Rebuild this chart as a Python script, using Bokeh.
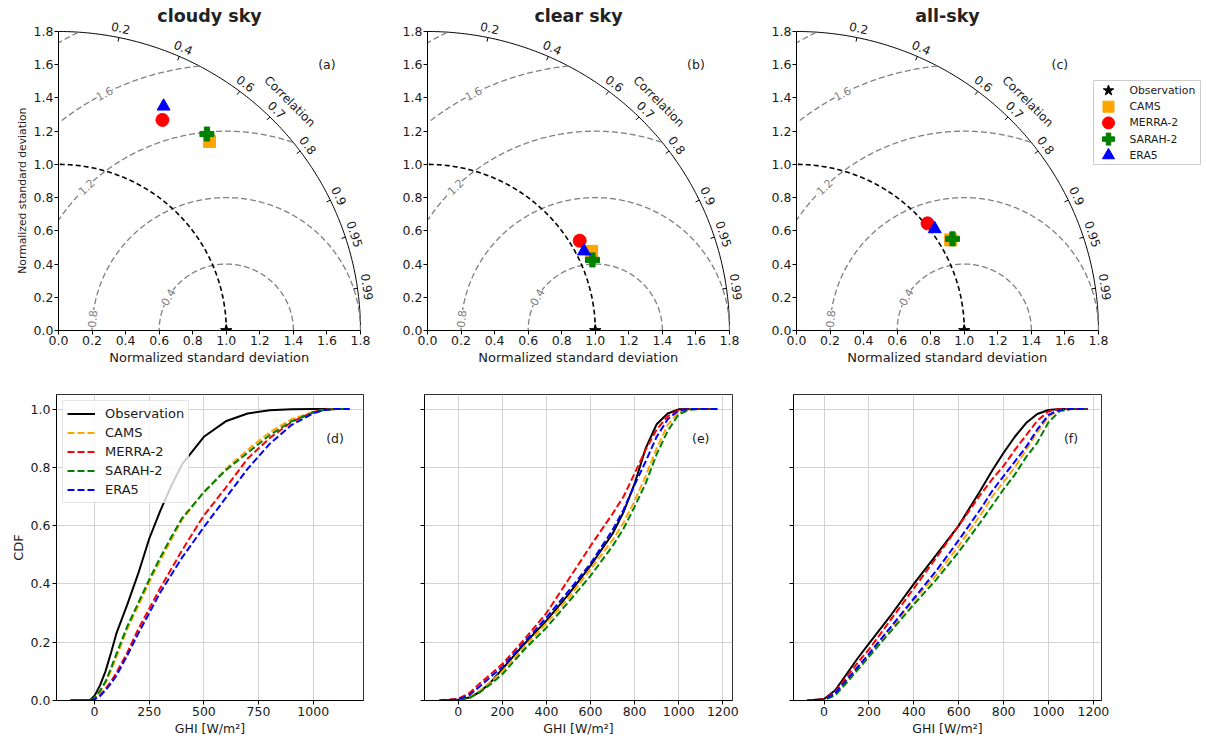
import numpy as np
from bokeh.plotting import figure
from bokeh.models import (ColumnDataSource, LabelSet, Label, Legend, LegendItem, Title,
                          FixedTicker, Range1d, PrintfTickFormatter, CustomJSTickFormatter)
from bokeh.layouts import column, row
from bokeh.embed import file_html
from bokeh.resources import INLINE
from bokeh.core.properties import value

FONT = "DejaVu Sans"
TXT = "#1a1a1a"

# ---------------- data ----------------
models = ["CAMS", "MERRA-2", "SARAH-2", "ERA5"]
model_colors = ["orange", "red", "green", "blue"]
model_markers = ["square", "circle", "plus", "triangle"]
model_sizes = [12, 13, 14, 13]

sky_titles = ["cloudy sky", "clear sky", "all-sky"]
top_tags = ["(a)", "(b)", "(c)"]
bottom_tags = ["(d)", "(e)", "(f)"]

# Taylor diagrams: normalized standard deviation and correlation (order = models)
std_cloudy = [1.451, 1.411, 1.477, 1.488]
corr_cloudy = [0.620, 0.439, 0.599, 0.421]
std_clear = [1.088, 1.056, 1.071, 1.048]
corr_clear = [0.899, 0.859, 0.918, 0.890]
std_all = [1.069, 1.013, 1.081, 1.026]
corr_all = [0.860, 0.771, 0.860, 0.803]
obs_std = 1.0
obs_corr = 1.0

std_ticks = [0.0, 0.2, 0.4, 0.6, 0.8, 1.0, 1.2, 1.4, 1.6, 1.8]
corr_ticks = [0.2, 0.4, 0.6, 0.7, 0.8, 0.9, 0.95, 0.99]
rms_levels = [0.4, 0.8, 1.2, 1.6, 2.0]
rms_label_levels = [0.4, 0.8, 1.2, 1.6]

# CDF curves
ghi_d = [-110, -20, 0, 25, 50, 75, 100, 150, 200, 250, 300, 350, 400, 500, 600, 700, 800, 900, 1000, 1050, 1100, 1166]
obs_d = [0, 0.002, 0.016, 0.052, 0.10, 0.163, 0.23, 0.33, 0.436, 0.555, 0.65, 0.735, 0.81, 0.905, 0.958, 0.985, 0.996, 0.999, 1, 1, 1, 1]
cams_d = [0, 0.001, 0.008, 0.03, 0.06, 0.102, 0.15, 0.245, 0.325, 0.405, 0.48, 0.55, 0.62, 0.715, 0.795, 0.86, 0.92, 0.965, 0.99, 0.998, 1, 1]
merra_d = [0, 0, 0.005, 0.018, 0.04, 0.065, 0.095, 0.165, 0.245, 0.315, 0.385, 0.45, 0.515, 0.635, 0.73, 0.83, 0.9, 0.955, 0.99, 0.998, 1, 1]
sarah_d = [0, 0.001, 0.008, 0.033, 0.065, 0.11, 0.16, 0.255, 0.335, 0.415, 0.49, 0.56, 0.625, 0.715, 0.79, 0.85, 0.91, 0.958, 0.988, 0.997, 1, 1]
era5_d = [0, 0, 0.004, 0.015, 0.035, 0.058, 0.085, 0.155, 0.23, 0.3, 0.37, 0.43, 0.49, 0.595, 0.695, 0.795, 0.88, 0.945, 0.985, 0.997, 1, 1]

ghi_e = [-85, 0, 50, 100, 150, 200, 300, 400, 500, 600, 700, 750, 800, 850, 900, 950, 1000, 1050, 1100, 1175]
obs_e = [0, 0.003, 0.01, 0.03, 0.065, 0.108, 0.194, 0.274, 0.364, 0.463, 0.572, 0.647, 0.744, 0.865, 0.948, 0.985, 0.999, 1, 1, 1]
cams_e = [0, 0.002, 0.01, 0.035, 0.065, 0.1, 0.185, 0.265, 0.352, 0.45, 0.55, 0.61, 0.685, 0.77, 0.865, 0.945, 0.99, 1, 1, 1]
merra_e = [0, 0.006, 0.025, 0.06, 0.092, 0.125, 0.21, 0.30, 0.415, 0.53, 0.641, 0.70, 0.779, 0.86, 0.93, 0.975, 0.997, 1, 1, 1]
sarah_e = [0, 0.002, 0.008, 0.03, 0.058, 0.09, 0.175, 0.25, 0.338, 0.428, 0.53, 0.59, 0.665, 0.745, 0.845, 0.925, 0.982, 0.998, 1, 1]
era5_e = [0, 0.004, 0.018, 0.05, 0.083, 0.115, 0.2, 0.285, 0.375, 0.47, 0.585, 0.655, 0.74, 0.82, 0.905, 0.965, 0.995, 1, 1, 1]

ghi_f = [-75, 0, 50, 100, 150, 200, 300, 400, 500, 600, 700, 750, 800, 850, 900, 950, 1000, 1050, 1100, 1174]
obs_f = [0, 0.005, 0.035, 0.09, 0.145, 0.195, 0.295, 0.40, 0.50, 0.60, 0.725, 0.79, 0.85, 0.905, 0.952, 0.983, 0.997, 1, 1, 1]
cams_f = [0, 0.003, 0.022, 0.068, 0.113, 0.158, 0.25, 0.345, 0.43, 0.53, 0.64, 0.70, 0.75, 0.80, 0.86, 0.92, 0.975, 0.997, 1, 1]
merra_f = [0, 0.004, 0.03, 0.08, 0.13, 0.175, 0.28, 0.385, 0.49, 0.60, 0.71, 0.76, 0.805, 0.86, 0.91, 0.96, 0.992, 1, 1, 1]
sarah_f = [0, 0.002, 0.018, 0.06, 0.105, 0.15, 0.24, 0.33, 0.415, 0.51, 0.615, 0.67, 0.725, 0.775, 0.835, 0.885, 0.955, 0.993, 1, 1]
era5_f = [0, 0.003, 0.025, 0.07, 0.115, 0.16, 0.255, 0.35, 0.445, 0.55, 0.66, 0.72, 0.77, 0.82, 0.87, 0.93, 0.98, 0.998, 1, 1]

cdf_ticks_y = [0.0, 0.2, 0.4, 0.6, 0.8, 1.0]
ghi_ticks_d = [0, 250, 500, 750, 1000]
ghi_ticks_ef = [0, 200, 400, 600, 800, 1000, 1200]

R_MAX = 1.8
KX = 302.0 / R_MAX   # px per unit (x) in the Taylor panels
KY = 299.0 / R_MAX   # px per unit (y)
TOP_H = 330          # Taylor frame height (reaches canvas top)


def style_axis(ax, fs="12.5px"):
    ax.major_label_text_font = FONT
    ax.major_label_text_font_size = fs
    ax.major_label_text_color = TXT
    ax.axis_label_text_font = FONT
    ax.axis_label_text_font_style = "normal"
    ax.axis_label_text_color = TXT
    ax.axis_line_color = "black"
    ax.major_tick_line_color = "black"
    ax.minor_tick_line_color = None
    ax.major_tick_in = 0
    ax.major_tick_out = 4


XLAB_W = 200.6   # approx. pixel width of the x-axis title at 13px
YLAB_W = 166.6   # approx. pixel width of the y-axis title at 10.8px


def taylor_panel(k, std, corr, L, Wf, R, show_ylabel):
    p = figure(x_range=Range1d(0, Wf / KX), y_range=Range1d(0, TOP_H / KY),
               frame_width=Wf, frame_height=TOP_H,
               min_border_left=L, min_border_right=R, min_border_top=0, min_border_bottom=40,
               output_backend="svg", toolbar_location=None)
    p.grid.visible = False
    p.outline_line_color = None
    for ax in (p.xaxis[0], p.yaxis[0]):
        style_axis(ax)
        ax.ticker = FixedTicker(ticks=std_ticks)
        ax.formatter = PrintfTickFormatter(format="%.1f")
        ax.major_label_standoff = 1
        ax.bounds = (0, R_MAX)
    p.add_layout(Title(text="Normalized standard deviation", align="left",
                       offset=0.9 * KX - XLAB_W / 2, standoff=0,
                       text_font=FONT, text_font_size="13px", text_font_style="normal",
                       text_color=TXT), "below")
    if show_ylabel:
        p.add_layout(Title(text="Normalized standard deviation", align="left",
                           offset=(TOP_H - 190) - YLAB_W / 2, standoff=4,
                           text_font=FONT, text_font_size="10.8px", text_font_style="normal",
                           text_color=TXT), "left")

    th = np.linspace(0, np.pi / 2, 181)
    # outer correlation arc
    p.line(R_MAX * np.cos(th), R_MAX * np.sin(th), line_color="black", line_width=1)
    # centred RMS difference arcs
    for r in rms_levels:
        ph = np.linspace(0, np.pi, 721)
        x = 1 + r * np.cos(ph)
        y = r * np.sin(ph)
        m = (x >= 0) & (x ** 2 + y ** 2 <= R_MAX ** 2 + 1e-9)
        p.line(x[m], y[m], line_color="#808080", line_dash="6 3", line_width=1.3)
    # observation std arc
    p.line(obs_std * np.cos(th), obs_std * np.sin(th), line_color="black",
           line_dash="5 3", line_width=1.6)
    # RMS labels
    phi = np.radians([150, 175, 134, 117])
    rl = np.array(rms_label_levels)
    rsrc = ColumnDataSource(dict(x=1 + rl * np.cos(phi), y=rl * np.sin(phi),
                                 t=[f"{v:.1f}" for v in rms_label_levels], a=phi - np.pi / 2))
    p.add_layout(LabelSet(x="x", y="y", text="t", angle="a", source=rsrc,
                          text_align="center", text_baseline="middle",
                          text_font=value(FONT), text_font_size="11px", text_color="#808080",
                          background_fill_color="white"))
    # correlation ticks and labels
    ang = np.arccos(np.array(corr_ticks))
    p.segment(x0=1.775 * np.cos(ang), y0=1.775 * np.sin(ang),
              x1=R_MAX * np.cos(ang), y1=R_MAX * np.sin(ang), line_color="black", line_width=1)
    csrc = ColumnDataSource(dict(x=1.858 * np.cos(ang), y=1.858 * np.sin(ang),
                                 t=[f"{c:g}" for c in corr_ticks], a=ang - np.pi / 2))
    p.add_layout(LabelSet(x="x", y="y", text="t", angle="a", source=csrc,
                          text_align="center", text_baseline="middle",
                          text_font=value(FONT), text_font_size="12px", text_color=TXT))
    p.add_layout(Label(x=1.95 * np.cos(np.pi / 4), y=1.95 * np.sin(np.pi / 4), text="Correlation",
                       angle=-np.pi / 4, text_align="center", text_baseline="middle",
                       text_font=FONT, text_font_size="12px", text_color=TXT))
    # title and tag
    p.add_layout(Label(x=0.9, y=1.896, text=sky_titles[k], text_align="center",
                       text_baseline="middle", text_font=FONT, text_font_size="17.5px",
                       text_font_style="bold", text_color="#222222"))
    p.add_layout(Label(x=1.6 if k < 2 else 1.57, y=1.6, text=top_tags[k], text_align="center",
                       text_baseline="middle", text_font=FONT, text_font_size="12.5px",
                       text_color=TXT))
    # points
    p.scatter([obs_std * obs_corr], [obs_std * np.sqrt(1 - obs_corr ** 2)],
              marker="star", size=12, color="black")
    for s, c, col, mk, sz in zip(std, corr, model_colors, model_markers, model_sizes):
        p.scatter([s * c], [s * np.sqrt(1 - c ** 2)], marker=mk, size=sz,
                  fill_color=col, line_color=col)
    return p


pa = taylor_panel(0, std_cloudy, corr_cloudy, 58, 322, 0, True)
pb = taylor_panel(1, std_clear, corr_clear, 47, 321, 0, False)
pc = taylor_panel(2, std_all, corr_all, 48, 410, 0, False)

# marker legend of the Taylor diagrams, drawn in the free frame space of panel (c)
leg_labels = ["Observation"] + models
leg_colors = ["black"] + model_colors
leg_markers = ["star"] + model_markers
leg_sizes = [11, 11, 12, 12, 12]
LEG_LEFT, LEG_TOP, LEG_W, LEG_H, LEG_PITCH = 297, 80, 107, 84, 16.2   # px (frame-relative x, canvas y)
lx0 = LEG_LEFT / KX
lx1 = (LEG_LEFT + LEG_W) / KX
ly1 = (TOP_H - LEG_TOP) / KY
ly0 = (TOP_H - LEG_TOP - LEG_H) / KY
pc.quad(left=[lx0], right=[lx1], bottom=[ly0], top=[ly1], fill_color="white",
        line_color="#cccccc", line_width=1)
ent_y = [(TOP_H - LEG_TOP - 10 - i * LEG_PITCH) / KY for i in range(len(leg_labels))]
for yy, col, mk, sz in zip(ent_y, leg_colors, leg_markers, leg_sizes):
    pc.scatter([(LEG_LEFT + 15) / KX], [yy], marker=mk, size=sz, fill_color=col, line_color=col)
pc.text(x=[(LEG_LEFT + 36) / KX] * len(leg_labels), y=ent_y, text=leg_labels,
        text_font=value(FONT), text_font_size="10.8px", text_color=TXT,
        text_align="left", text_baseline="middle")


def cdf_panel(k, ghi, curves, xr, xticks, L, FW, R, first):
    p = figure(x_range=Range1d(*xr), y_range=Range1d(0, 1.05),
               frame_width=FW, frame_height=306,
               min_border_left=L, min_border_right=R, min_border_top=24, min_border_bottom=42,
               output_backend="svg", toolbar_location=None)
    p.outline_line_color = "#333333"
    p.outline_line_width = 1
    for ax in (p.xaxis[0], p.yaxis[0]):
        style_axis(ax)
        ax.major_label_standoff = 2
        ax.axis_label_standoff = 2
    p.xaxis.ticker = FixedTicker(ticks=xticks)
    p.yaxis.ticker = FixedTicker(ticks=cdf_ticks_y)
    p.xgrid.ticker = FixedTicker(ticks=xticks)
    p.ygrid.ticker = FixedTicker(ticks=cdf_ticks_y)
    p.grid.grid_line_color = "#d3d3d3"
    p.grid.grid_line_width = 1
    p.xaxis.axis_label = "GHI [W/m²]"
    p.xaxis.axis_label_text_font_size = "12.5px"
    if first:
        p.yaxis.formatter = PrintfTickFormatter(format="%.1f")
        p.yaxis.axis_label = "CDF"
        p.yaxis.axis_label_text_font_size = "13px"
    else:
        p.yaxis.formatter = CustomJSTickFormatter(code="return ''")
    rends = [p.line(ghi, curves[0], line_color="black", line_width=2)]
    for cv, col in zip(curves[1:], model_colors):
        rends.append(p.line(ghi, cv, line_color=col, line_width=2, line_dash="7 3"))
    p.add_layout(Label(x=1100, y=0.9, text=bottom_tags[k], text_align="center",
                       text_baseline="middle", text_font=FONT, text_font_size="12.5px",
                       text_color=TXT))
    return p, rends


pd_, rd = cdf_panel(0, ghi_d, [obs_d, cams_d, merra_d, sarah_d, era5_d], (-174, 1230),
                    ghi_ticks_d, 56, 307, 25, True)
pe, _ = cdf_panel(1, ghi_e, [obs_e, cams_e, merra_e, sarah_e, era5_e], (-153, 1244),
                  ghi_ticks_ef, 36, 308, 25, False)
pf, _ = cdf_panel(2, ghi_f, [obs_f, cams_f, merra_f, sarah_f, era5_f], (-136, 1236),
                  ghi_ticks_ef, 36, 308, 105, False)

legd = Legend(items=[LegendItem(label=lab, renderers=[r]) for lab, r in zip(leg_labels, rd)],
              location="top_left", margin=6, padding=4, spacing=2,
              glyph_width=28, glyph_height=17, label_height=17, label_standoff=10,
              label_text_font=FONT, label_text_font_size="13px", label_text_color=TXT,
              border_line_color="#cccccc", border_line_width=1,
              background_fill_color="white", background_fill_alpha=0.8)
pd_.add_layout(legd)

layout = column(row(pa, pb, pc), row(pd_, pe, pf))
open("out.html", "w").write(file_html(layout, INLINE))
